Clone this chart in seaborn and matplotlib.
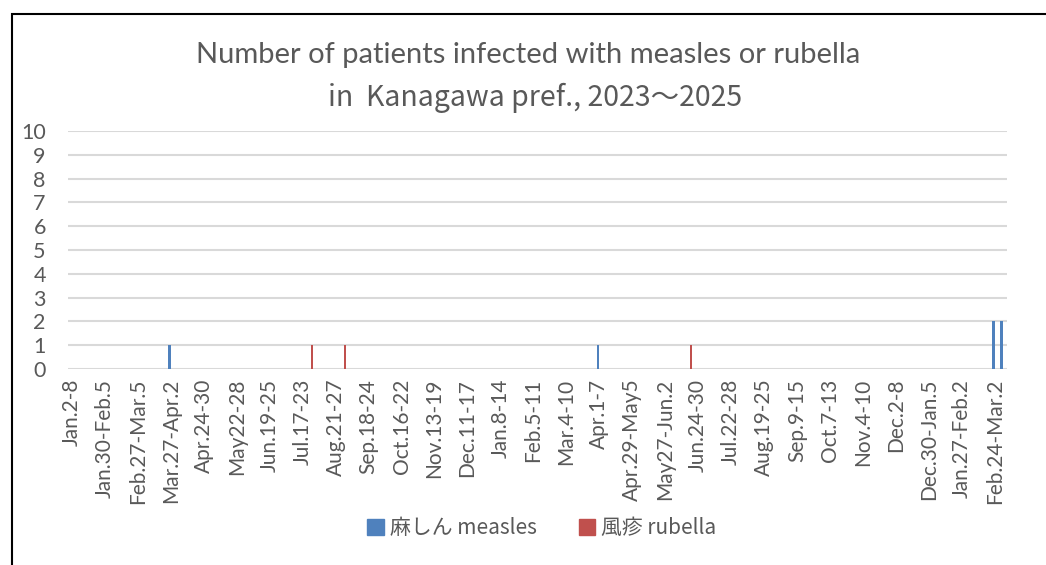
import numpy as np
import pandas as pd
import matplotlib
matplotlib.use("Agg")
import matplotlib.pyplot as plt
import seaborn as sns
from matplotlib.patches import Rectangle

# ---- data (weekly, Jan.2-8 2023 ... Mar.3-9 2025) ----
n_weeks = 114
measles_weeks = [12, 64, 112, 113]
measles_counts = [1, 1, 2, 2]
rubella_weeks = [29, 33, 75]
rubella_counts = [1, 1, 1]
tick_labels = ["Jan.2-8", "Jan.30-Feb.5", "Feb.27-Mar.5", "Mar.27-Apr.2", "Apr.24-30",
               "May22-28", "Jun.19-25", "Jul.17-23", "Aug.21-27", "Sep.18-24",
               "Oct.16-22", "Nov.13-19", "Dec.11-17", "Jan.8-14", "Feb.5-11",
               "Mar.4-10", "Apr.1-7", "Apr.29-May5", "May27-Jun.2", "Jun.24-30",
               "Jul.22-28", "Aug.19-25", "Sep.9-15", "Oct.7-13", "Nov.4-10",
               "Dec.2-8", "Dec.30-Jan.5", "Jan.27-Feb.2", "Feb.24-Mar.2"]
series_names = ["麻しん measles", "風疹 rubella"]
colors = ["#4f81bd", "#c0504d"]

measles = np.zeros(n_weeks)
measles[measles_weeks] = measles_counts
rubella = np.zeros(n_weeks)
rubella[rubella_weeks] = rubella_counts

df = pd.DataFrame({
    "week": list(range(n_weeks)) * 2,
    "count": np.concatenate([measles, rubella]),
    "series": [series_names[0]] * n_weeks + [series_names[1]] * n_weeks,
})

sns.set_theme(style="white")
plt.rcParams["font.family"] = ["Lato", "Noto Sans CJK JP", "DejaVu Sans"]
gray = "#595959"

fig = plt.figure(figsize=(10.46, 5.65), dpi=100)
ax = fig.add_axes([68/1046, 1-369/565, (1007-68)/1046, (369-131)/565])

sns.barplot(data=df, x="week", y="count", hue="series", order=list(range(n_weeks)),
            hue_order=series_names, palette=colors, width=0.6, dodge=True,
            ax=ax, legend=False, linewidth=0, saturation=1)

ax.set_ylim(0, 10)
ax.set_xlim(-0.5, n_weeks - 0.5)
ax.set_yticks(range(0, 11))
ax.yaxis.grid(True, color="#d9d9d9", linewidth=1.5)
ax.set_axisbelow(True)
for s in ax.spines.values():
    s.set_visible(False)
ax.set_xticks(list(range(0, n_weeks, 4))[:len(tick_labels)])
ax.set_xticklabels(tick_labels, rotation=90, fontsize=15, color=gray,
                   family=["Lato", "DejaVu Sans"])
ax.tick_params(axis="x", length=0, pad=7)
ax.tick_params(axis="y", length=0, pad=16, labelsize=15.5, labelcolor=gray)
for t in ax.get_yticklabels():
    t.set_family(["Lato", "DejaVu Sans"])
ax.set_xlabel("")
ax.set_ylabel("")

fig.text(0.505, 1-55/565, "Number of patients infected with measles or rubella",
         ha="center", va="center", fontsize=21, color=gray,
         family=["Lato", "DejaVu Sans"])
fig.text(0.512, 1-98/565, "in  Kanagawa pref., 2023\u301c2025",
         ha="center", va="center", fontsize=20.5, color=gray,
         family=["Noto Sans CJK JP", "DejaVu Sans"])

handles = [Rectangle((0, 0), 1, 1, color=c) for c in colors]
leg = fig.legend(handles, series_names, loc="center", bbox_to_anchor=(0.518, 1-528/565),
                 ncol=2, frameon=False, handlelength=0.8, handleheight=0.8,
                 handletextpad=0.3, columnspacing=2.0,
                 prop={"family": ["Noto Sans CJK JP", "DejaVu Sans"], "size": 15})
for t in leg.get_texts():
    t.set_color(gray)

fig.patches.append(Rectangle((12/1046, -0.1), 1.2, 1.1 - 14/565,
                             transform=fig.transFigure, fill=False,
                             edgecolor="black", linewidth=1.5))
fig.savefig("out.png", dpi=100)
